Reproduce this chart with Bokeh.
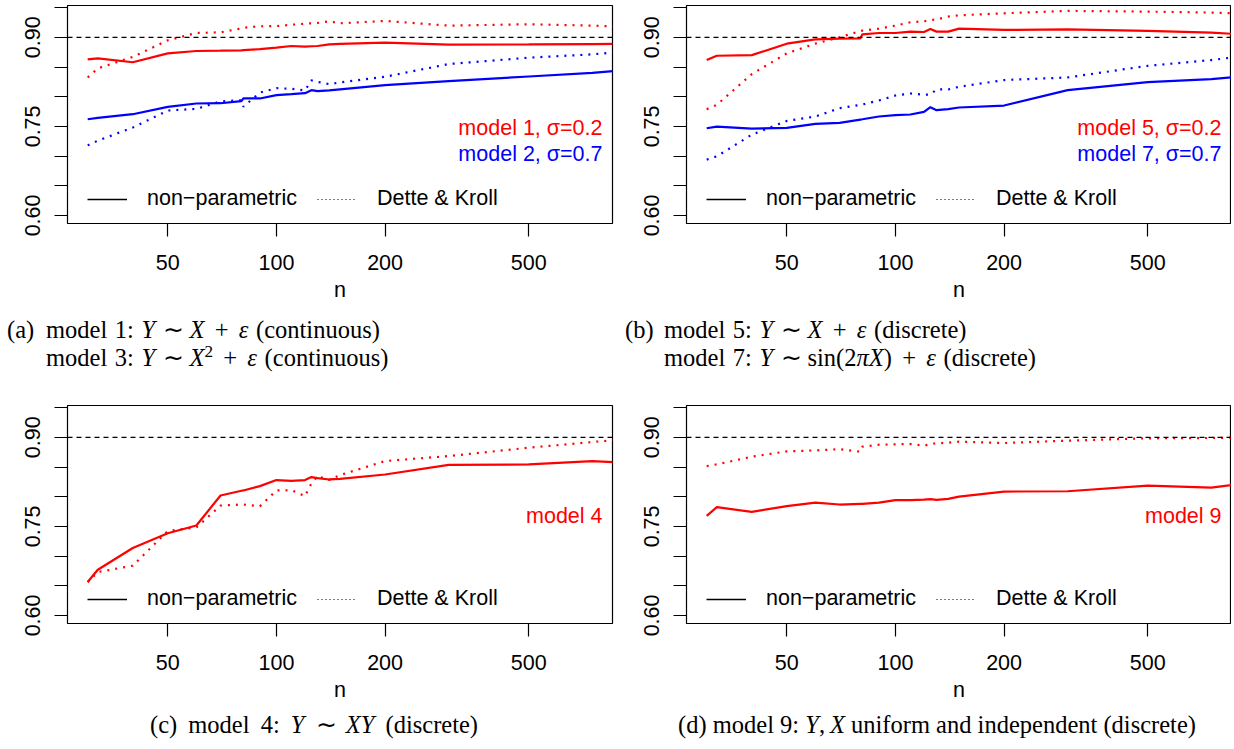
from bokeh.plotting import figure
from bokeh.models import Range1d, FixedTicker, Span, Label, Legend, LegendItem, Div
from bokeh.layouts import column, row
from bokeh.embed import file_html
from bokeh.resources import INLINE

# ---------------- data ----------------
n = [30, 32, 40, 50, 60, 70, 80, 81, 90, 100, 110, 120, 125, 130, 140, 150, 200, 300, 500, 750, 1000]

m1_nonpar = [0.863, 0.8645, 0.858, 0.873, 0.877, 0.8775, 0.878, 0.8785, 0.880, 0.8825, 0.8854, 0.8842, 0.885, 0.8854, 0.888, 0.889, 0.891, 0.8876, 0.888, 0.8887, 0.889]
m1_dette = [0.8324, 0.8476, 0.867, 0.895, 0.9073, 0.9084, 0.915, 0.916, 0.9186, 0.919, 0.921, 0.923, 0.9236, 0.9242, 0.927, 0.9236, 0.9276, 0.9197, 0.922, 0.9197, 0.917]
m2_nonpar = [0.762, 0.7643, 0.7705, 0.7829, 0.7885, 0.789, 0.7925, 0.797, 0.797, 0.8026, 0.8043, 0.806, 0.811, 0.8093, 0.8105, 0.8122, 0.8195, 0.8262, 0.834, 0.840, 0.8467]
m2_dette = [0.718, 0.726, 0.748, 0.7767, 0.7795, 0.792, 0.794, 0.783, 0.807, 0.8144, 0.8133, 0.8105, 0.8274, 0.825, 0.8212, 0.824, 0.8336, 0.855, 0.8657, 0.8713, 0.878]

m5_nonpar = [0.8617, 0.869, 0.870, 0.8893, 0.8966, 0.8977, 0.8983, 0.905, 0.9073, 0.9073, 0.9096, 0.909, 0.914, 0.9096, 0.9096, 0.9146, 0.9124, 0.9135, 0.9107, 0.908, 0.9035]
m5_dette = [0.779, 0.7863, 0.838, 0.873, 0.8893, 0.900, 0.9107, 0.9113, 0.9146, 0.9197, 0.9253, 0.927, 0.9293, 0.930, 0.935, 0.937, 0.9405, 0.9445, 0.9433, 0.9417, 0.939]
m7_nonpar = [0.7468, 0.7497, 0.7463, 0.7474, 0.7542, 0.7559, 0.7615, 0.762, 0.7666, 0.7688, 0.770, 0.7744, 0.7824, 0.7773, 0.779, 0.7818, 0.7851, 0.811, 0.8245, 0.8296, 0.836]
m7_dette = [0.694, 0.6995, 0.736, 0.7592, 0.7666, 0.7806, 0.7863, 0.7868, 0.7936, 0.802, 0.8054, 0.8032, 0.8037, 0.8122, 0.8122, 0.8167, 0.828, 0.8324, 0.852, 0.8617, 0.871]

m4_nonpar = [0.6562, 0.677, 0.7136, 0.7384, 0.7514, 0.802, 0.810, 0.8105, 0.8178, 0.828, 0.8268, 0.828, 0.833, 0.8313, 0.829, 0.830, 0.8374, 0.8537, 0.8543, 0.86, 0.856]
m4_dette = [0.656, 0.673, 0.6838, 0.7423, 0.748, 0.785, 0.7868, 0.7868, 0.784, 0.8105, 0.811, 0.801, 0.8223, 0.8347, 0.828, 0.8364, 0.86, 0.8684, 0.8825, 0.892, 0.899]

m9_nonpar = [0.7677, 0.7823, 0.7744, 0.784, 0.790, 0.7868, 0.788, 0.788, 0.790, 0.7941, 0.7941, 0.795, 0.7958, 0.7947, 0.7964, 0.800, 0.8086, 0.8092, 0.8188, 0.8154, 0.8246]
m9_dette = [0.8516, 0.8544, 0.8673, 0.8764, 0.878, 0.880, 0.8758, 0.8842, 0.8876, 0.8882, 0.8887, 0.8859, 0.8887, 0.8899, 0.891, 0.8927, 0.8904, 0.8944, 0.8983, 0.8989, 0.900]

nominal_level = 0.90
x_limits = (30, 750)
y_limits = (0.60, 0.94)
y_ticks = [0.60, 0.65, 0.70, 0.75, 0.80, 0.85, 0.90, 0.95]
y_labelled = {0.60: "0.60", 0.75: "0.75", 0.90: "0.90"}
x_ticks = [50, 100, 200, 500]
x_tick_labels = ["50", "100", "200", "500"]
legend_labels = ["non\u2212parametric", "Dette & Kroll"]

RED = "#ff0000"
BLUE = "#0000ff"
SANS = "Liberation Sans"
FS = "21.5px"
NAN = float("nan")

# R-style 4% axis extension
_lr = (x_limits[1] / x_limits[0]) ** 0.04
XR = (x_limits[0] / _lr, x_limits[1] * _lr)
_dy = (y_limits[1] - y_limits[0]) * 0.04
YR = (y_limits[0] - _dy, y_limits[1] + _dy)


def panel(series, notes, left, fw, right, top, fh, bottom):
    p = figure(x_axis_type="log", x_range=Range1d(*XR), y_range=Range1d(*YR),
               frame_width=fw, frame_height=fh,
               width=left + fw + right, height=top + fh + bottom,
               min_border_left=left, min_border_right=right,
               min_border_top=top, min_border_bottom=bottom,
               output_backend="svg", toolbar_location=None)
    p.margin = (0, 0, 0, 0)
    p.xgrid.visible = False
    p.ygrid.visible = False
    p.outline_line_color = "black"
    p.outline_line_width = 1.2
    p.background_fill_color = "white"
    p.border_fill_color = "white"

    for ax in (p.xaxis[0], p.yaxis[0]):
        ax.axis_line_color = None
        ax.major_tick_out = 13
        ax.major_tick_in = 0
        ax.major_tick_line_color = "black"
        ax.major_tick_line_width = 1.2
        ax.minor_tick_line_color = None
        ax.major_label_text_font = SANS
        ax.major_label_text_font_size = FS
        ax.major_label_text_color = "black"

    p.yaxis.ticker = FixedTicker(ticks=y_ticks, minor_ticks=[])
    p.yaxis.major_label_overrides = {t: y_labelled.get(t, "") for t in y_ticks}
    p.yaxis.major_label_orientation = "vertical"
    p.yaxis.major_label_standoff = 14

    p.xaxis.ticker = FixedTicker(ticks=x_ticks, minor_ticks=[])
    p.xaxis.major_label_overrides = dict(zip(x_ticks, x_tick_labels))
    p.xaxis.major_label_standoff = 18
    p.xaxis.axis_label = "n"
    p.xaxis.axis_label_text_font = SANS
    p.xaxis.axis_label_text_font_size = FS
    p.xaxis.axis_label_text_font_style = "normal"
    p.xaxis.axis_label_text_color = "black"
    p.xaxis.axis_label_standoff = 5

    p.add_layout(Span(location=nominal_level, dimension="width", line_color="black",
                      line_dash="5 4", line_width=1.2))

    for vals, color, dotted in series:
        if dotted:
            p.line(n, vals, line_color=color, line_width=2.2, line_dash="2 6")
        else:
            p.line(n, vals, line_color=color, line_width=2.2)

    # legend proxies (nothing drawn in the plot area)
    r1 = p.line([NAN], [NAN], line_color="black", line_width=1.4)
    r2 = p.line([NAN], [NAN], line_color="black", line_width=1.1, line_dash="1 3")
    leg = Legend(items=[LegendItem(label=legend_labels[0], renderers=[r1]),
                        LegendItem(label=legend_labels[1], renderers=[r2])],
                 location=(20, 12), orientation="horizontal",
                 border_line_color=None, background_fill_alpha=0,
                 padding=0, margin=0, spacing=20, glyph_width=40, glyph_height=20,
                 label_standoff=20, label_text_font=SANS, label_text_font_size=FS,
                 label_text_color="black")
    p.add_layout(leg)

    for text, color, ypos in notes:
        p.add_layout(Label(x=fw - 10, y=ypos, x_units="screen", y_units="screen",
                           text=text, text_align="right", text_baseline="middle",
                           text_color=color, text_font=SANS, text_font_size=FS))
    return p


pa = panel([(m1_nonpar, RED, False), (m1_dette, RED, True),
            (m2_nonpar, BLUE, False), (m2_dette, BLUE, True)],
           [("model 1, \u03c3=0.2", RED, 96), ("model 2, \u03c3=0.7", BLUE, 70)],
           67, 545, 21, 5, 218, 87)
pb = panel([(m5_nonpar, RED, False), (m5_dette, RED, True),
            (m7_nonpar, BLUE, False), (m7_dette, BLUE, True)],
           [("model 5, \u03c3=0.2", RED, 96), ("model 7, \u03c3=0.7", BLUE, 70)],
           53, 545, 0, 5, 218, 87)
pc = panel([(m4_nonpar, RED, False), (m4_dette, RED, True)],
           [("model 4", RED, 108)],
           67, 545, 21, 10, 218, 82)
pd = panel([(m9_nonpar, RED, False), (m9_dette, RED, True)],
           [("model 9", RED, 108)],
           53, 545, 0, 10, 218, 82)

SERIF = ("font-family:'Liberation Serif','Times New Roman',serif;font-size:24.5px;"
         "line-height:24.5px;color:#000;white-space:nowrap;position:absolute;")


def op(sym):
    return f'<span style="display:inline-block;width:0.778em;text-align:center">{sym}</span>'


SIM = op("\u223c")
PLUS = op("+")


def line(x, top, html, center=False, ws=1.5):
    extra = "transform:translateX(-50%);" if center else ""
    return (f'<span style="{SERIF}left:{x}px;top:{top}px;word-spacing:{ws}px;{extra}">'
            f'{html}</span>')


sup2 = '<sup style="font-size:0.7em;line-height:0;vertical-align:0.5em">2</sup>'
top_html = (
    '<div style="position:relative;width:1231px;height:85px;">'
    + line(7, 7.5, "(a)")
    + line(46, 7.5, f"model 1: <i>Y</i> {SIM} <i>X</i> {PLUS} <i>\u03b5</i> (continuous)")
    + line(46, 36, f"model 3: <i>Y</i> {SIM} <i>X</i>{sup2} {PLUS} <i>\u03b5</i> (continuous)")
    + line(625, 7.5, "(b)")
    + line(664, 7.5, f"model 5: <i>Y</i> {SIM} <i>X</i> {PLUS} <i>\u03b5</i> (discrete)")
    + line(664, 36, f"model 7: <i>Y</i> {SIM} sin(2<i>\u03c0X</i>) {PLUS} <i>\u03b5</i> (discrete)")
    + '</div>'
)
bottom_html = (
    '<div style="position:relative;width:1231px;height:42px;">'
    + line(314, 8, f"(c) model 4: <i>Y</i> {SIM} <i>XY</i> (discrete)", center=True, ws=5)
    + line(937, 8, "(d) model 9: <i>Y</i>,&#8201;<i>X</i> uniform and independent (discrete)",
           center=True, ws=0)
    + '</div>'
)
cap_top = Div(text=top_html, width=1231, height=85, margin=(0, 0, 0, 0))
cap_bottom = Div(text=bottom_html, width=1231, height=42, margin=(0, 0, 0, 0))

layout = column(row(pa, pb, spacing=0), cap_top, row(pc, pd, spacing=0), cap_bottom, spacing=0)

open("out.html", "w").write(file_html(layout, INLINE))
